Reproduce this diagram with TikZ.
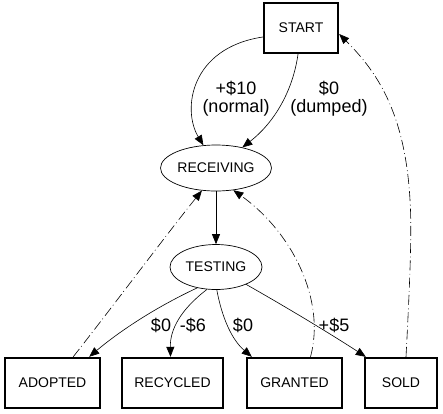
\documentclass[tikz,border=0pt]{standalone}
\usepackage{fontspec}
\setmainfont{Liberation Sans}
\usetikzlibrary{arrows.meta,shapes.geometric}
\begin{document}
\begin{tikzpicture}[x=1pt,y=-1pt,
  box/.style={draw,line width=2.4pt,rectangle,minimum height=50pt,inner sep=0pt,font=\fontsize{14}{16}\selectfont},
  oval/.style={draw,line width=0.7pt,ellipse,inner sep=0pt,font=\fontsize{14}{16}\selectfont},
  lab/.style={font=\fontsize{18}{18}\selectfont,align=center,inner sep=0pt},
  edge/.style={line width=0.6pt,-{Triangle[length=10pt,width=8pt]}},
  back/.style={edge,dash pattern=on 10pt off 3pt on 0.8pt off 3.5pt}]
\useasboundingbox (0,0) rectangle (443,413);
\node[box,minimum width=74pt] (start) at (301,28) {START};
\node[oval,minimum width=111pt,minimum height=46pt] (rec) at (216,168) {RECEIVING};
\node[oval,minimum width=92pt,minimum height=45pt] (test) at (216,267) {TESTING};
\node[box,minimum width=95pt] (adopted) at (52.5,383) {ADOPTED};
\node[box,minimum width=101pt] (recycled) at (172.5,383) {RECYCLED};
\node[box,minimum width=95pt] (granted) at (294.5,383) {GRANTED};
\node[box,minimum width=72pt] (sold) at (401,383) {SOLD};
% edges
\draw[edge] ([yshift=-9pt]start.west) .. controls (190,48) and (182,110) .. (rec.119);
\draw[edge] ([xshift=-3pt]start.south) .. controls (293,90) and (275,122) .. (rec.38);
\draw[edge] (rec) -- (test);
\draw[edge] (test.-132) .. controls (150,310) and (115,335) .. ([xshift=-12pt]adopted.north east);
\draw[edge] (test.-112) .. controls (180,310) and (170,330) .. ([xshift=-2pt]recycled.north);
\draw[edge] (test.-88) .. controls (222,318) and (232,340) .. ([xshift=6pt]granted.north west);
\draw[edge] (test.-30) .. controls (300,315) and (340,340) .. ([xshift=2pt]sold.north west);
\draw[back] ([xshift=-28pt]adopted.north east) .. controls (110,310) and (170,230) .. (rec.-122);
\draw[back] ([xshift=16pt]granted.north) .. controls (326,300) and (292,232) .. (rec.-52);
\draw[back] ([xshift=5pt]sold.north) .. controls (410,280) and (412,230) .. (410,200) .. controls (405,110) and (375,70) .. ([yshift=-6pt]start.east);
% labels
\node[lab] (l1) at (236,99) {+\$10\\(normal)};
\node[lab] (l2) at (329,99) {\$0\\(dumped)};
\node[lab] (l3) at (161,325) {\$0};
\node[lab] (l4) at (193,325) {-\$6};
\node[lab] (l5) at (243,325) {\$0};
\node[lab] (l6) at (334,325) {+\$5};
\end{tikzpicture}
\end{document}
